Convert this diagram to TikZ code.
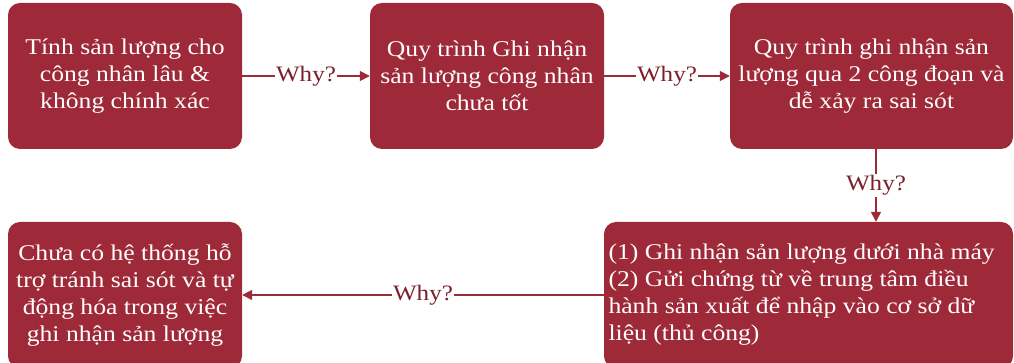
\documentclass[tikz,border=0pt]{standalone}
\usepackage{fontspec}
\setmainfont{Liberation Serif}[FakeStretch=1.14]
\usetikzlibrary{positioning,arrows.meta,calc}
\definecolor{whyred}{HTML}{9E2938}
\definecolor{whytext}{HTML}{7B1F2B}
\tikzset{
  causeb/.style={draw=none, fill=whyred, text=white, rounded corners=12pt,
    align=center, inner sep=4pt, minimum height=146pt,
    font=\fontsize{22.5}{27}\selectfont},
  flow/.style={-{Triangle[length=10pt,width=10pt]}, line width=1.6pt, draw=whyred},
  whyl/.style={fill=white, text=whytext, inner sep=1pt,
    font=\fontsize{22}{24}\selectfont},
}
\begin{document}
\begin{tikzpicture}[x=1pt,y=1pt]
  \useasboundingbox (0,0) rectangle (1014,363);
  \begin{scope}
    \clip (0,0) rectangle (1014,363);
    \node[causeb, minimum width=234pt] (b1) at (125,287)
      {Tính sản lượng cho\\công nhân lâu \&\\không chính xác};
    \node[causeb, minimum width=234pt] (b2) at (487,287)
      {Quy trình Ghi nhận\\sản lượng công nhân\\chưa tốt};
    \node[causeb, minimum width=283pt] (b3) at (871.5,287)
      {Quy trình ghi nhận sản\\lượng qua 2 công đoạn và\\dễ xảy ra sai sót};
    \node[causeb, minimum width=409pt, text width=400pt, align=flush left] (b4) at (808.5,68)
      {(1) Ghi nhận sản lượng dưới nhà máy\\(2) Gửi chứng từ về trung tâm điều\\hành sản xuất để nhập vào cơ sở dữ\\liệu (thủ công)};
    \node[causeb, minimum width=234pt] (b5) at (125,68)
      {Chưa có hệ thống hỗ\\trợ tránh sai sót và tự\\động hóa trong việc\\ghi nhận sản lượng};
  \end{scope}
  \draw[flow] (b1.east) -- node[whyl] {Why?} (b2.west);
  \draw[flow] (b2.east) -- node[whyl] {Why?} (b3.west);
  \draw[flow] ([xshift=4.5pt]b3.south) -- node[whyl] {Why?}
    ([xshift=4.5pt]b3.south |- b4.north);
  \draw[flow] (b4.west) -- node[whyl] {Why?} (b5.east);
\end{tikzpicture}
\end{document}
